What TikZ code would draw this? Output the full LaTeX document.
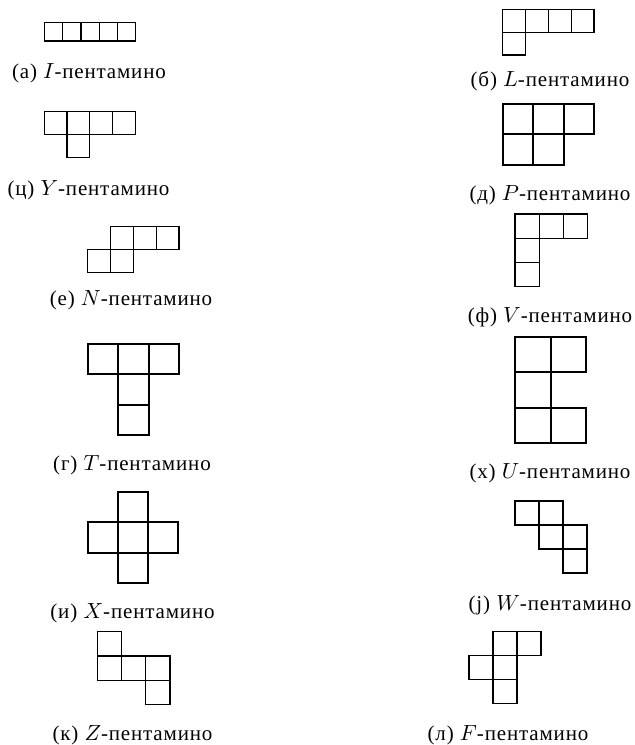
\documentclass[tikz,border=0pt]{standalone}
\usepackage{fontspec}
\setmainfont{Liberation Serif}[LetterSpace=4]
\begin{document}
\begin{tikzpicture}[x=0.5pt,y=-0.5pt,
  thinpiece/.style={line width=0.6pt},
  thickpiece/.style={line width=1pt},
  lab/.style={font=\fontsize{10.5}{12}\selectfont, inner sep=0pt, anchor=center}]
\useasboundingbox (0,0) rectangle (634,745);
% piece drawing helper: #1 style, #2 x0, #3 y0, #4 size, #5 cells
\newcommand\pentpiece[5]{%
  \foreach \cc/\rr in {#5}{\draw[#1] ({#2+\cc*#4},{#3+\rr*#4}) rectangle ++(#4,#4);}}
% I
\pentpiece{thinpiece}{44.3}{22.6}{18.3}{0/0,1/0,2/0,3/0,4/0}
\node[lab] (la) at (89,73) {(а) $I$-пентамино};
% Y
\pentpiece{thinpiece}{44.3}{111.7}{22.7}{0/0,1/0,2/0,3/0,1/1}
\node[lab] (lc) at (88.5,190) {(ц) $Y$-пентамино};
% L
\pentpiece{thinpiece}{502.7}{9.3}{22.8}{0/0,1/0,2/0,3/0,0/1}
\node[lab] (lb) at (550,81) {(б) $L$-пентамино};
% P
\pentpiece{thickpiece}{502.7}{104}{30.4}{0/0,1/0,2/0,0/1,1/1}
\node[lab] (ld) at (550,195) {(д) $P$-пентамино};
% N
\pentpiece{thinpiece}{87.7}{226.7}{22.8}{1/0,2/0,3/0,0/1,1/1}
\node[lab] (le) at (131,300) {(е) $N$-пентамино};
% V
\pentpiece{thinpiece}{515}{214}{24.2}{0/0,1/0,2/0,0/1,0/2}
\node[lab] (lf) at (550,317) {(ф) $V$-пентамино};
% T
\pentpiece{thickpiece}{87.7}{344}{30.4}{0/0,1/0,2/0,1/1,1/2}
\node[lab] (lg) at (132,465) {(г) $T$-пентамино};
% U
\pentpiece{thickpiece}{515}{336.7}{35.5}{0/0,1/0,0/1,0/2,1/2}
\node[lab] (lh) at (550,473) {(х) $U$-пентамино};
% X
\pentpiece{thickpiece}{87.7}{492.3}{30.1}{1/0,0/1,1/1,2/1,1/2}
\node[lab] (li) at (132.5,613) {(и) $X$-пентамино};
% W
\pentpiece{thinpiece}{515}{501}{24}{0/0,1/0,1/1,2/1,2/2}
\node[lab] (lj) at (550,605) {(j) $W$-пентамино};
% Z
\pentpiece{thinpiece}{97.3}{631.7}{24.2}{0/0,0/1,1/1,2/1,2/2}
\node[lab] (lk) at (132.5,735) {(к) $Z$-пентамино};
% F
\pentpiece{thinpiece}{469}{631.7}{24}{1/0,2/0,0/1,1/1,1/2}
\node[lab] (ll) at (508,735) {(л) $F$-пентамино};
\end{tikzpicture}
\end{document}
